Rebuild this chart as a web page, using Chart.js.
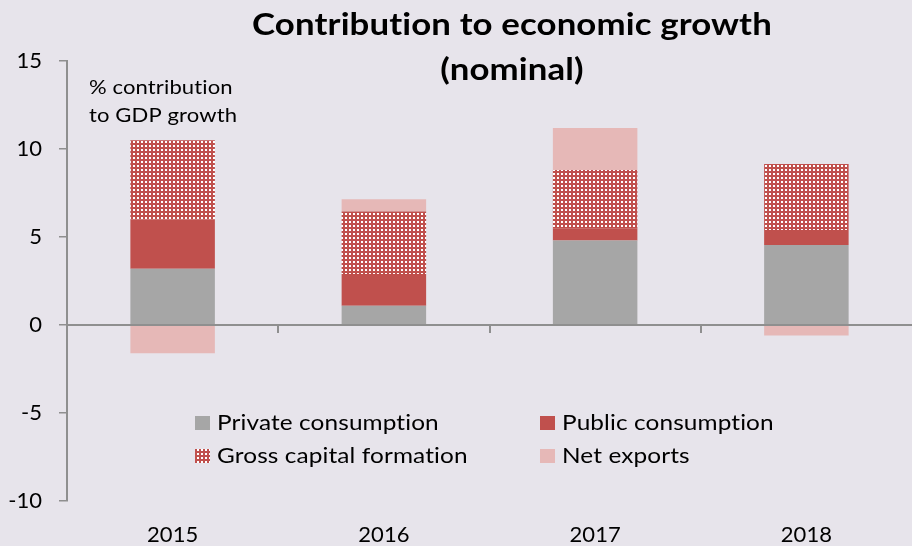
<!DOCTYPE html>
<html>
<head>
<meta charset="utf-8">
<title>Contribution to economic growth (nominal)</title>
<script src="https://cdn.jsdelivr.net/npm/chart.js@4/dist/chart.umd.min.js"></script>
<style>
  html, body { margin: 0; padding: 0; background: #e7e4eb; }
  #wrap { width: 912px; height: 546px; }
</style>
</head>
<body>
<div id="wrap"><canvas id="chart" width="912" height="546"></canvas></div>
<script>
// Contribution to nominal GDP growth, percentage points
const years = ['2015', '2016', '2017', '2018'];
const privateConsumption = [3.2, 1.1, 4.8, 4.55];
const publicConsumption = [2.8, 1.8, 0.7, 0.85];
const grossCapitalFormation = [4.5, 3.55, 3.3, 3.75];
const netExports = [-1.6, 0.7, 2.4, -0.6];
const yTicks = [-10, -5, 0, 5, 10, 15];

const titleLines = ['Contribution to economic growth', '(nominal)'];
const unitLines = ['% contribution', 'to GDP growth'];

const BG = '#e7e4eb';
const AXIS = '#8f8f8f';
const FONT = 'Lato, "Open Sans", sans-serif';
const TEXT_STRETCH = 1.16;

// red fill with a grid of small white dots
function dottedPattern(color) {
  const c = document.createElement('canvas');
  c.width = 4; c.height = 4;
  const g = c.getContext('2d');
  g.fillStyle = color;
  g.fillRect(0, 0, 4, 4);
  g.fillStyle = '#ffffff';
  g.fillRect(1, 1, 2, 2);
  return g.createPattern(c, 'repeat');
}
const gcfPattern = dottedPattern('#c0504d');

const backgroundPlugin = {
  id: 'bg',
  beforeDraw(chart) {
    const ctx = chart.ctx;
    ctx.save();
    ctx.fillStyle = BG;
    ctx.fillRect(0, 0, chart.width, chart.height);
    ctx.restore();
  }
};

// zero line across the plot with category separators hanging below it
const zeroAxisPlugin = {
  id: 'zeroAxis',
  afterDatasetsDraw(chart) {
    const { ctx, chartArea, scales } = chart;
    const y0 = Math.round(scales.y.getPixelForValue(0));
    ctx.save();
    ctx.strokeStyle = AXIS;
    ctx.lineWidth = 2;
    ctx.beginPath();
    ctx.moveTo(chartArea.left, y0);
    ctx.lineTo(chartArea.right, y0);
    ctx.stroke();
    for (let i = 1; i < years.length; i++) {
      const x = Math.round(scales.x.getPixelForValue(i - 0.5));
      ctx.beginPath();
      ctx.moveTo(x, y0);
      ctx.lineTo(x, y0 + 8);
      ctx.stroke();
    }
    ctx.restore();
  }
};

// slightly widened text, as in the rest of the layout
function wideText(ctx, text, x, y, align) {
  ctx.save();
  ctx.translate(x, y);
  ctx.scale(TEXT_STRETCH, 1);
  ctx.textAlign = align;
  ctx.fillText(text, 0, 0);
  ctx.restore();
}

// title, unit note and the in-plot legend
const annotationsPlugin = {
  id: 'annotations',
  afterDraw(chart) {
    const ctx = chart.ctx;
    ctx.save();
    ctx.fillStyle = '#000';
    ctx.textBaseline = 'middle';
    if ('letterSpacing' in ctx) ctx.letterSpacing = '0.1px';

    ctx.font = 'bold 30px ' + FONT;
    wideText(ctx, titleLines[0], 512, 25, 'center');
    wideText(ctx, titleLines[1], 512, 70, 'center');

    ctx.font = '19px ' + FONT;
    wideText(ctx, unitLines[0], 89, 88, 'left');
    wideText(ctx, unitLines[1], 89, 116, 'left');

    ctx.font = '21px ' + FONT;
    const cols = [195, 540];
    const rows = [423, 456];
    chart.data.datasets.forEach((ds, i) => {
      const x = cols[i % 2];
      const y = rows[Math.floor(i / 2)];
      ctx.fillStyle = ds.backgroundColor;
      ctx.fillRect(x, y - 7, 15, 14);
      ctx.fillStyle = '#000';
      wideText(ctx, ds.label, x + 22, y, 'left');
    });
    ctx.restore();
  }
};

new Chart(document.getElementById('chart'), {
  type: 'bar',
  data: {
    labels: years,
    datasets: [
      { label: 'Private consumption', data: privateConsumption, backgroundColor: '#a6a6a6' },
      { label: 'Public consumption', data: publicConsumption, backgroundColor: '#c0504d' },
      { label: 'Gross capital formation', data: grossCapitalFormation, backgroundColor: gcfPattern },
      { label: 'Net exports', data: netExports, backgroundColor: '#e6b8b7' }
    ]
  },
  options: {
    responsive: false,
    animation: false,
    layout: { padding: { left: 7, top: 61, right: 0, bottom: 0 } },
    datasets: {
      bar: { categoryPercentage: 1, barPercentage: 0.4, borderWidth: 0 }
    },
    plugins: {
      legend: { display: false },
      title: { display: false },
      tooltip: { enabled: false }
    },
    scales: {
      x: {
        stacked: true,
        grid: { display: false, drawTicks: false },
        border: { display: false },
        ticks: { color: '#000', font: { family: FONT, size: 22 }, padding: 21, maxRotation: 0 },
        afterFit(scale) { scale.height = 45; }
      },
      y: {
        stacked: true,
        min: yTicks[0],
        max: yTicks[yTicks.length - 1],
        afterBuildTicks(scale) { scale.ticks = yTicks.map(v => ({ value: v })); },
        grid: { drawOnChartArea: false, color: AXIS, lineWidth: 1.5, tickLength: 8 },
        border: { display: true, color: AXIS, width: 2 },
        ticks: { color: '#000', font: { family: FONT, size: 22 }, padding: 17 },
        afterFit(scale) { scale.width = 60; }
      }
    }
  },
  plugins: [backgroundPlugin, zeroAxisPlugin, annotationsPlugin]
});
</script>
</body>
</html>
